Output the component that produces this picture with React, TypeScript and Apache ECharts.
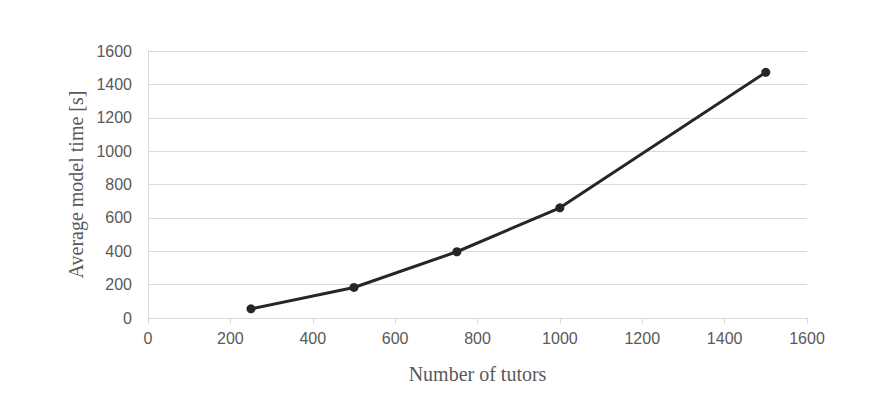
import React, { useEffect, useRef } from "react";
import * as echarts from "echarts";

const tutors = [250, 500, 750, 1000, 1500];
const modelTime = [55, 183, 397, 660, 1472];
const xTitle = "Number of tutors";
const yTitle = "Average model time [s]";

export default function App() {
  const ref = useRef<HTMLDivElement>(null);
  useEffect(() => {
    if (!ref.current) return;
    const chart = echarts.init(ref.current, undefined, { renderer: "svg" });
    const tickFont = "'Liberation Sans Narrow', 'Liberation Sans', sans-serif";
    const titleFont = "'Liberation Serif', 'DejaVu Serif', serif";
    const fmt = (v: number) => String(v);
    chart.setOption({
      animation: false,
      backgroundColor: "#ffffff",
      grid: { left: 148, right: 78, top: 51, bottom: 101 },
      xAxis: {
        type: "value",
        min: 0,
        max: 1600,
        interval: 200,
        name: xTitle,
        nameLocation: "middle",
        nameGap: 46,
        nameTextStyle: { fontFamily: titleFont, fontSize: 20, color: "#595959" },
        axisLine: { show: true, lineStyle: { color: "#d9d9d9", width: 1 } },
        axisTick: { show: true, length: 6, lineStyle: { color: "#d9d9d9" } },
        axisLabel: { formatter: fmt, fontFamily: tickFont, fontSize: 16, color: "#595959", margin: 12 },
        splitLine: { show: false },
      },
      yAxis: {
        type: "value",
        min: 0,
        max: 1600,
        interval: 200,
        name: yTitle,
        nameLocation: "middle",
        nameGap: 62,
        nameRotate: 90,
        nameTextStyle: { fontFamily: titleFont, fontSize: 20, color: "#595959" },
        axisLine: { show: true, lineStyle: { color: "#d9d9d9", width: 1 } },
        axisTick: { show: false },
        axisLabel: { formatter: fmt, fontFamily: tickFont, fontSize: 16, color: "#595959", margin: 16 },
        splitLine: { show: true, lineStyle: { color: "#d9d9d9", width: 1 } },
      },
      series: [
        {
          type: "line",
          data: tutors.map((t, i) => [t, modelTime[i]]),
          symbol: "circle",
          symbolSize: 9,
          lineStyle: { color: "#262626", width: 3 },
          itemStyle: { color: "#262626" },
        },
      ],
    });
    return () => chart.dispose();
  }, []);
  return <div ref={ref} style={{ width: 885, height: 419, position: "absolute", left: 0, top: 0 }} />;
}
